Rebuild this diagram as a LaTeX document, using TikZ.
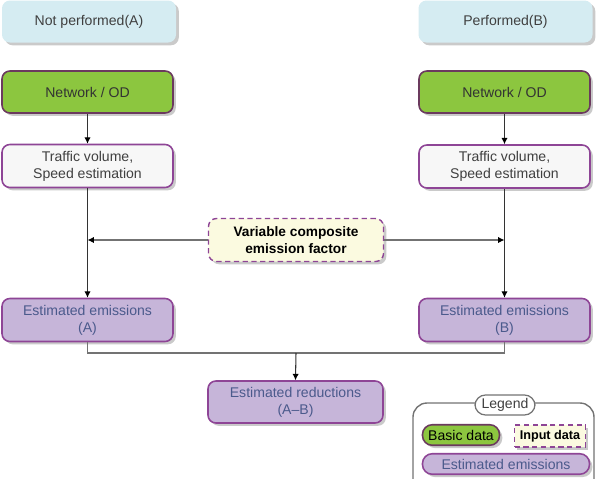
\documentclass[tikz,border=0pt]{standalone}
\usepackage{fontspec}
\setmainfont{Liberation Sans}
\usetikzlibrary{arrows.meta,shadows}
\definecolor{topfill}{HTML}{D5ECF2}
\definecolor{greenfill}{HTML}{8CC63F}
\definecolor{greenline}{HTML}{6B3A5E}
\definecolor{trafill}{HTML}{F7F7F7}
\definecolor{purpline}{HTML}{8E4596}
\definecolor{emfill}{HTML}{C6B5D9}
\definecolor{emtext}{HTML}{4B5A8C}
\definecolor{varfill}{HTML}{FBFAE0}
\definecolor{txtgray}{HTML}{404040}
\tikzset{
  sh/.style={drop shadow={shadow xshift=1.6pt,shadow yshift=-1.6pt,opacity=0.35,fill=black!60}},
  base/.style={rounded corners=4.5pt, align=center, inner sep=1pt,
    font=\fontsize{8}{9.6}\selectfont, sh},
  topbox/.style={base, fill=topfill, text=txtgray, minimum width=3.48cm, minimum height=0.84cm},
  netbox/.style={base, fill=greenfill, draw=greenline, line width=0.9pt, text=black!80,
    minimum width=3.42cm, minimum height=0.84cm},
  trafbox/.style={base, fill=trafill, draw=purpline, line width=0.9pt, text=txtgray,
    minimum width=3.42cm, minimum height=0.86cm},
  embox/.style={base, fill=emfill, draw=purpline, line width=0.9pt, text=emtext,
    minimum width=3.42cm, minimum height=0.86cm},
  varbox/.style={base, fill=varfill, draw=purpline, densely dashed, line width=0.8pt,
    font=\fontsize{7.8}{9.4}\selectfont\bfseries, minimum width=3.5cm, minimum height=0.86cm},
  conn/.style={draw=black!80, line width=0.6pt},
  hconn/.style={draw=black!55, line width=0.7pt},
  arr/.style={-{Latex[length=3.6pt,width=3.6pt,color=black]}},
  legtitle/.style={draw=black!55, fill=white, line width=0.7pt, rounded corners=6pt,
    font=\fontsize{8}{9.6}\selectfont, text=txtgray, minimum width=1.2cm, minimum height=0.4cm, inner sep=1pt},
  legpill/.style={rounded corners=5.5pt, line width=0.9pt, inner sep=1pt,
    font=\fontsize{8}{9.6}\selectfont, minimum height=0.41cm, sh},
}
\begin{document}
\begin{tikzpicture}
\useasboundingbox (0,0) rectangle (12,-9.58);
\clip (0,0) rectangle (12,-9.58);
% top labels
\node[topbox] (topA) at (1.78,-0.43) {Not performed(A)};
\node[topbox] (topB) at (10.11,-0.43) {Performed(B)};
% network
\node[netbox] (netA) at (1.75,-1.84) {Network / OD};
\node[netbox] (netB) at (10.09,-1.84) {Network / OD};
% traffic
\node[trafbox] (trafA) at (1.75,-3.32) {Traffic volume,\\Speed estimation};
\node[trafbox] (trafB) at (10.09,-3.33) {Traffic volume,\\Speed estimation};
% variable factor
\node[varbox] (var) at (5.92,-4.8) {Variable composite\\emission factor};
% emissions
\node[embox] (emA) at (1.75,-6.4) {Estimated emissions\\(A)};
\node[embox] (emB) at (10.09,-6.4) {Estimated emissions\\(B)};
% reductions
\node[embox, minimum width=3.5cm, minimum height=0.84cm] (red) at (5.91,-8.04) {Estimated reductions\\(A--B)};
% connectors
\draw[conn,arr] (netA) -- (trafA);
\draw[conn,arr] (netB) -- (trafB);
\draw[conn,arr] (trafA) -- (emA);
\draw[conn,arr] (trafB) -- (emB);
\draw[hconn,arr] (var.west) -- (var.west -| trafA.south);
\draw[hconn,arr] (var.east) -- (var.east -| trafB.south);
\coordinate (jn) at (5.92,-7.06);
\draw[hconn] (emA.south) |- (jn) -| (emB.south);
\draw[conn,arr] (jn) -- (red.north);
% legend
\draw[draw=black!55, line width=0.8pt, rounded corners=8pt, fill=white] (8.26,-8.06) rectangle (11.88,-9.95);
\node[legtitle] (leg) at (10.1,-8.1) {Legend};
\node[legpill, fill=greenfill, draw=greenline, minimum width=1.54cm] (lbasic) at (9.22,-8.7) {Basic data};
\node[legpill, fill=varfill, draw=purpline, densely dashed, rounded corners=0pt, line width=0.8pt,
  font=\fontsize{7.2}{9}\selectfont\bfseries, minimum width=1.42cm, minimum height=0.44cm] (linput) at (11.0,-8.72) {Input data};
\node[legpill, fill=emfill, draw=purpline, text=emtext, minimum width=3.34cm] (lem) at (10.12,-9.28) {Estimated emissions};
\end{tikzpicture}
\end{document}
